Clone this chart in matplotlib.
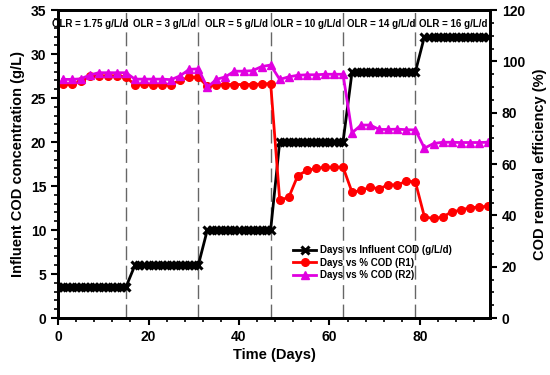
import matplotlib
matplotlib.use("Agg")
import matplotlib.pyplot as plt
from matplotlib.ticker import MultipleLocator, AutoMinorLocator

plt.rcParams['font.family'] = ['Liberation Sans', 'DejaVu Sans']
plt.rcParams['font.weight'] = 'bold'

# influent COD (g/L), one point per day
cod_days = list(range(0, 16)) + list(range(17, 32)) + list(range(33, 48)) + \
    list(range(49, 64)) + list(range(65, 80)) + list(range(81, 96))
cod_vals = [3.5] * 16 + [6] * 15 + [10] * 15 + [20] * 15 + [28] * 15 + [32] * 15

# removal efficiency (%), every second day
eff_days = list(range(1, 96, 2))
r1 = [91.1, 91.1, 92.2, 94.3, 94.3, 94.3, 94.3, 94.0,
      90.8, 91.2, 90.8, 90.8, 91.0, 92.7, 93.8, 93.8,
      90.4, 91.0, 91.0, 91.0, 91.0, 91.0, 91.2, 91.4,
      46.0, 47.0, 55.5, 57.5, 58.3, 58.8, 58.8, 58.8,
      49.0, 49.7, 51.0, 50.3, 52.0, 51.8, 53.4, 53.0,
      39.4, 38.8, 39.3, 41.4, 42.0, 43.0, 43.2, 43.6]
r2 = [93.0, 93.0, 93.2, 94.7, 95.6, 95.6, 95.6, 95.6,
      93.1, 93.1, 93.1, 93.1, 92.9, 94.4, 96.9, 97.1,
      89.9, 93.0, 94.0, 96.2, 96.2, 96.4, 98.0, 98.6,
      93.0, 94.0, 94.6, 94.8, 94.8, 95.0, 95.0, 95.0,
      72.2, 75.2, 75.2, 73.5, 73.5, 73.6, 73.4, 73.3,
      66.2, 68.0, 68.5, 68.5, 68.4, 68.4, 68.4, 68.5]

phase_ends = [15, 31, 47, 63, 79]
olr_labels = ['OLR = 1.75 g/L/d', 'OLR = 3 g/L/d', 'OLR = 5 g/L/d',
              'OLR = 10 g/L/d', 'OLR = 14 g/L/d', 'OLR = 16 g/L/d']
olr_x = [-1.3, 16.5, 32.5, 47.5, 63.8, 79.8]

fig = plt.figure(figsize=(5.5, 3.75), dpi=100)
ax1 = fig.add_axes([0.1055, 0.152, 0.7855, 0.821])
ax2 = ax1.twinx()

for d in phase_ends:
    ax1.axvline(d, color='#666666', lw=1.0, ls=(0, (10, 4)), zorder=1)

l1, = ax1.plot(cod_days, cod_vals, color='black', lw=2, marker='x',
               ms=6, mew=2.2, label='Days vs Influent COD (g/L/d)', zorder=3)
l2, = ax2.plot(eff_days, r1, color='#ff0000', lw=2, marker='o', ms=5.5,
               label='Days vs % COD (R1)')
l3, = ax2.plot(eff_days, r2, color='#e000e0', lw=2, marker='^', ms=5.5,
               label='Days vs % COD (R2)')

for x, t in zip(olr_x, olr_labels):
    ax1.text(x, 33.4, t, fontsize=7, fontweight='bold', ha='left', va='center', zorder=4)

ax1.set_xlim(0, 95.5)
ax1.set_ylim(0, 35)
ax2.set_ylim(0, 120)
ax1.xaxis.set_major_locator(MultipleLocator(20))
ax1.xaxis.set_minor_locator(MultipleLocator(4))
ax1.yaxis.set_major_locator(MultipleLocator(5))
ax1.yaxis.set_minor_locator(MultipleLocator(1))
ax2.yaxis.set_major_locator(MultipleLocator(20))
ax2.yaxis.set_minor_locator(AutoMinorLocator(4))

for ax in (ax1, ax2):
    for s in ax.spines.values():
        s.set_linewidth(2)
    ax.tick_params(which='major', length=5, width=1.5, labelsize=10, direction='out')
    ax.tick_params(which='minor', length=3, width=1.2, direction='out')
for lab in ax1.get_xticklabels() + ax1.get_yticklabels() + ax2.get_yticklabels():
    lab.set_fontweight('bold')

ax1.set_xlabel('Time (Days)', fontsize=10.5, fontweight='bold', labelpad=3)
ax1.set_ylabel('Influent COD concentration (g/L)', fontsize=10.5, fontweight='bold')
ax2.set_ylabel('COD removal efficiency (%)', fontsize=10.5, fontweight='bold', labelpad=6)

ax2.legend(handles=[l1, l2, l3], loc='lower left', bbox_to_anchor=(0.535, 0.11),
           frameon=False, prop={'size': 7, 'weight': 'bold'},
           handlelength=2.4, handletextpad=0.4, labelspacing=0.25, borderaxespad=0)

fig.savefig('out.png', dpi=100)
